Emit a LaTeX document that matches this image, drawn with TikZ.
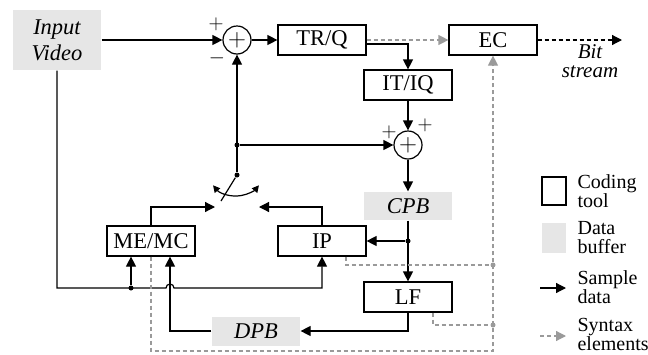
\documentclass[tikz,border=0pt]{standalone}
\usepackage{fontspec}
\setmainfont{Liberation Serif}
\usetikzlibrary{arrows.meta,calc}
\definecolor{bufgray}{HTML}{E6E6E6}
\definecolor{syngray}{HTML}{9A9A9A}

\begin{document}
\begin{tikzpicture}[x=1pt,y=-1pt,
  line width=1.2pt,
  font=\fontsize{22.5}{24}\selectfont,
  tool/.style={draw,minimum width=88pt,minimum height=30pt,inner sep=0pt},
  buf/.style={fill=bufgray,minimum width=88pt,minimum height=29pt,inner sep=0pt,
    font=\fontsize{22.5}{24}\selectfont\itshape},
  sum/.style={draw,circle,minimum size=28pt,inner sep=0pt,font=\fontsize{27}{27}\selectfont},
  a/.style={-{Triangle[length=10pt,width=10pt]}},
  sd/.style={syngray,dash pattern=on 4pt off 3pt},
  sx/.style={sd,-{Triangle[length=10pt,width=10pt]}},
  jn/.style={circle,fill,inner sep=0pt,minimum size=5pt},
  lg/.style={align=left,anchor=west,inner sep=0pt,font=\fontsize{20}{19}\selectfont}
]
\useasboundingbox (0,0) rectangle (648,354);
% blocks
\node[buf,minimum height=60pt,align=center,font=\fontsize{22.5}{26}\selectfont\itshape] (iv) at (57,40) {Input\\Video};
\node[sum] (s1) at (237,40) {$+$};
\node[tool] (trq) at (322,40) {TR/Q};
\node[tool] (ec) at (493,40) {EC};
\node[tool] (itiq) at (408,85) {IT/IQ};
\node[sum] (s2) at (408,145) {$+$};
\node[buf,minimum height=28pt] (cpb) at (408,206) {CPB};
\node[tool] (ip) at (322,241) {IP};
\node[tool] (me) at (151,241) {ME/MC};
\node[tool] (lf) at (408,297) {LF};
\node[buf] (dpb) at (256,331) {DPB};
\coordinate (bs) at (622,40);
\node[align=center,inner sep=0pt,font=\fontsize{21}{19}\selectfont\itshape] (bst) at (590,61) {Bit\\stream};
% signs
\node (p1) at (216,24) {$+$};
\node (m1) at (217,58) {$-$};
\node (p2) at (389,132) {$+$};
\node (p3) at (425,125) {$+$};
% junctions
\node[jn] (j1) at (237,145) {};
\node[jn] (sw) at (237,175) {};
\node[jn] (j2) at (408,241) {};
\node[jn] (j3) at (131,288) {};
\node[jn,syngray] (j4) at (493,265) {};
\node[jn,syngray] (j5) at (493,325) {};
\coordinate (swl) at (215,207);
\coordinate (swr) at (259,207);
\coordinate (lev) at (221,201);
\coordinate (hop) at (170,288);
\coordinate (bot) at (0,351);
% sample data
\draw[a] (iv) -- (s1);
\draw[a] (s1) -- (trq);
\draw[a] ([yshift=-4pt]trq.east) -| (itiq);
\draw[a] (itiq) -- (s2);
\draw[a] (s2) -- (cpb);
\draw[a] (cpb) -- (lf);
\draw[a] (j2) -- (ip);
\draw[a] (lf) |- (dpb);
\draw[a] (dpb) -| (hop |- me.south);
\draw[a] (iv) |- ([xshift=-4pt]hop) arc[start angle=180,end angle=0,radius=4pt] -| (ip.south);
\draw[a] (j3) -- (j3 |- me.south);
\draw[a] (sw) -- (s1);
\draw[a] (j1) -- (s2);
\draw[a] (me.north) |- (swl);
\draw[a] (ip.north) |- (swr);
% switch
\draw (sw) -- (lev);
\draw[{Triangle[length=7pt,width=7pt]}-{Triangle[length=7pt,width=7pt]}]
  (236,166) ++(220:30pt) arc[start angle=220,end angle=320,radius=30pt];
% syntax elements
\draw[sx] (trq) -- (ec);
\draw[dash pattern=on 4pt off 3pt,-{Triangle[length=10pt,width=10pt]}] (ec) -- (bs);
\draw[sx] (me.south) |- (ec.south |- bot) -- (ec.south);
\draw[sd] ([xshift=24pt]ip.south) |- (j4);
\draw[sd] ([xshift=25pt]lf.south) |- (j5);
% legend
\node[draw,minimum width=24pt,minimum height=28pt] (lgt) at (554,191) {};
\node[lg] (lgtt) at (577,191) {Coding\\tool};
\node[fill=bufgray,minimum width=24pt,minimum height=30pt] (lgb) at (554,238) {};
\node[lg] (lgbt) at (577,238) {Data\\buffer};
\coordinate (la1) at (540,288);
\coordinate (la2) at (566,288);
\draw[a] (la1) -- (la2);
\node[lg] (lgat) at (577,287) {Sample\\data};
\coordinate (ls1) at (540,336);
\coordinate (ls2) at (566,336);
\draw[sx] (ls1) -- (ls2);
\node[lg] (lgst) at (577,334) {Syntax\\elements};
\end{tikzpicture}
\end{document}
